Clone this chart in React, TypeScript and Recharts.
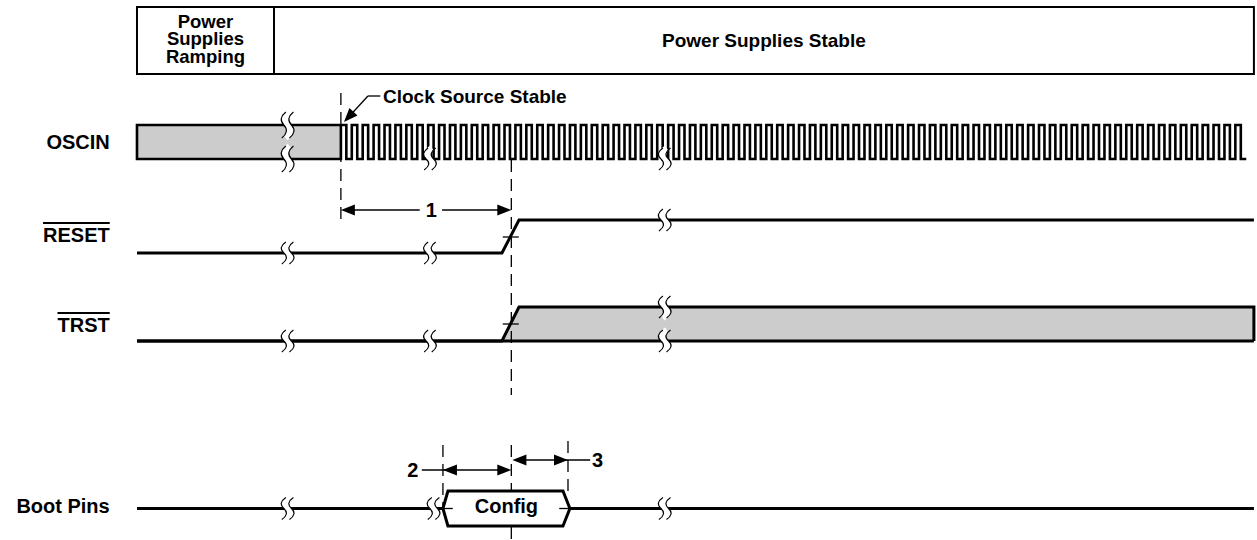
import React from 'react';
import {
  ComposedChart,
  Line,
  Area,
  XAxis,
  YAxis,
  ReferenceArea,
  ReferenceLine,
  ReferenceDot,
} from 'recharts';

// ---------------- data ----------------
// time axis in arbitrary time units, 0 = "Clock Source Stable"
const timeDomain: [number, number] = [-32, 86];
const rowDomain: [number, number] = [0, 540];

const traceStart = -19.14;
const traceEnd = 85.71;

const phaseNames = ['Power Supplies Ramping', 'Power Supplies Stable'];
const phaseLines = ['Power', 'Supplies', 'Ramping'];
const phaseBounds = [-19.14, -6.28, 85.71];

const signalNames = ['OSCIN', 'RESET', 'TRST', 'Boot Pins'];
const signalBar = [false, true, true, false];

// OSCIN: undefined (shaded) until clock is stable, then square wave
const clockStart = 0;
const clockPeriod = 1.024;
const clockCycles = 83;
const clockHalfLevels = [1, 0];

// RESET (active low) – released after interval 1
const resetTimes = [-19.14, 15.12, 16.72, 85.71];
const resetLevels = [0, 0, 1, 1];

// TRST – released together with RESET, then don't care (shaded)
const trstTimes = [-19.14, 15.12, 16.72, 85.71, 85.71];
const trstLevels = [0, 0, 1, 1, 0];
const trstFillTimes = [15.12, 16.72, 85.71];
const trstFillLow = [0, 0, 0];
const trstFillHigh = [0, 1, 1];

// Boot pins – config window
const bootUpperTimes = [-19.14, 9.58, 10.05, 20.85, 21.5, 85.71];
const bootUpperLevels = [0.5, 0.5, 1, 1, 0.5, 0.5];
const bootLowerTimes = [9.58, 10.05, 20.85, 21.5];
const bootLowerLevels = [0.5, 0, 0, 0.5];

// break ("time gap") marks: [time, level]
const oscinBoxBreaks = [[-5.0, 1], [-5.0, 0]];
const oscinClockBreaks = [[8.36, 0], [30.4, 0]];
const resetBreaks = [[-5.0, 0], [8.36, 0], [30.4, 1]];
const trstBreaks = [[-5.0, 0], [8.36, 0], [30.4, 1], [30.4, 0]];
const bootBreaks = [[-5.0, 0.5], [8.7, 0.5], [30.4, 0.5]];

// timing parameters 1, 2, 3 : [from, to]
const param1 = [0, 16];
const param2 = [9.58, 16];
const param3 = [16.1, 21.32];
const paramLabels = ['1', '2', '3'];

// ---------------- layout ----------------
const FONT = '"Liberation Sans", Arial, Helvetica, sans-serif';
const HEADER_ROWS = [7, 74];
const LANES = [
  [125, 159],
  [220, 253],
  [307, 341],
  [491, 526],
];
const LABEL_ROWS = [142, 235, 325, 506];
const LABEL_T = -21.7;

const row = (lane: number[], v: number) => lane[1] - v * (lane[1] - lane[0]);

const toPts = (times: number[], levels: number[], lane: number[]) =>
  times.map((t, i) => ({ t, y: row(lane, levels[i]) }));

// OSCIN outline: shaded box then clock
const oscinLane = LANES[0];
const oscinData: { t: number; y: number }[] = [
  { t: clockStart, y: row(oscinLane, 1) },
  { t: clockStart, y: row(oscinLane, 0) },
  { t: traceStart, y: row(oscinLane, 0) },
  { t: traceStart, y: row(oscinLane, 1) },
  { t: clockStart, y: row(oscinLane, 1) },
];
for (let k = 0; k < clockCycles; k++) {
  const t0 = clockStart + k * clockPeriod;
  clockHalfLevels.forEach((lv, h) => {
    oscinData.push({ t: t0 + (h * clockPeriod) / 2, y: row(oscinLane, lv) });
    oscinData.push({ t: t0 + ((h + 1) * clockPeriod) / 2, y: row(oscinLane, lv) });
  });
}
const oscinFill = [
  { t: traceStart, r: [row(oscinLane, 0), row(oscinLane, 1)] },
  { t: clockStart, r: [row(oscinLane, 0), row(oscinLane, 1)] },
];

const resetData = toPts(resetTimes, resetLevels, LANES[1]);
const trstData = toPts(trstTimes, trstLevels, LANES[2]);
const trstBase = toPts([traceStart, traceEnd], [0, 0], LANES[2]);
const trstFill = trstFillTimes.map((t, i) => ({
  t,
  r: [row(LANES[2], trstFillLow[i]), row(LANES[2], trstFillHigh[i])],
}));
const bootUpper = toPts(bootUpperTimes, bootUpperLevels, LANES[3]);
const bootLower = toPts(bootLowerTimes, bootLowerLevels, LANES[3]);
const bootFill = bootLowerTimes.map((t, i) => ({
  t,
  r: [row(LANES[3], bootLowerLevels[i]), row(LANES[3], bootUpperLevels[i + 1])],
}));

// ---------------- shapes ----------------
const Squiggle = (h: number) => (p: any) => {
  const { cx, cy } = p;
  const curve = (ox: number) =>
    `M ${cx + ox + 2} ${cy - h / 2} Q ${cx + ox - 6} ${cy - h / 4} ${cx + ox} ${cy} Q ${cx + ox + 6} ${cy + h / 4} ${cx + ox - 2} ${cy + h / 2}`;
  return (
    <g>
      <path d={curve(0)} stroke="#fff" strokeWidth={6} fill="none" />
      <path d={curve(-3.8)} stroke="#000" strokeWidth={1.2} fill="none" />
      <path d={curve(3.8)} stroke="#000" strokeWidth={1.2} fill="none" />
    </g>
  );
};

const Arrowhead = (angle: number) => (p: any) => (
  <polygon
    points={`${p.cx},${p.cy} ${p.cx - 14},${p.cy - 5.5} ${p.cx - 14},${p.cy + 5.5}`}
    fill="#000"
    transform={`rotate(${angle} ${p.cx} ${p.cy})`}
  />
);

const TextShape =
  (lines: string[], size: number, anchor: string, opts: { lineGap?: number; overline?: boolean; dy?: number } = {}) =>
  (p: any) => {
    const gap = opts.lineGap ?? size;
    const y0 = p.cy + (opts.dy ?? 0) - ((lines.length - 1) * gap) / 2;
    return (
      <g>
        {lines.map((l, i) => (
          <text
            key={i}
            x={p.cx}
            y={y0 + i * gap}
            textAnchor={anchor as any}
            dominantBaseline="central"
            fontFamily={FONT}
            fontWeight="bold"
            fontSize={size}
            fill="#000"
            style={opts.overline ? { textDecoration: 'overline' } : undefined}
          >
            {l}
          </text>
        ))}
      </g>
    );
  };

const seg = (t1: number, y1: number, t2: number, y2: number, dashed = false, w = 1.3) => (
  <ReferenceLine
    segment={[
      { x: t1, y: y1 },
      { x: t2, y: y2 },
    ]}
    stroke="#000"
    strokeWidth={w}
    strokeDasharray={dashed ? '12 7' : undefined}
    ifOverflow="extendDomain"
  />
);

const dot = (t: number, y: number, shape: any, key?: string) => (
  <ReferenceDot key={key} x={t} y={y} r={1} shape={shape} ifOverflow="extendDomain" />
);

const breaks = (list: number[][], lane: number[], h: number, tag: string) =>
  list.map(([t, v], i) => dot(t, row(lane, v), Squiggle(h), `b${tag}-${i}`));

export default function App() {
  const lineProps = {
    type: 'linear' as const,
    dataKey: 'y',
    stroke: '#000',
    strokeWidth: 3,
    dot: false,
    activeDot: false,
    isAnimationActive: false,
    legendType: 'none' as const,
  };
  const headerMid = (HEADER_ROWS[0] + HEADER_ROWS[1]) / 2;
  return (
    <div style={{ position: 'absolute', left: 0, top: 0, background: '#fff' }}>
      <ComposedChart width={1257} height={540} margin={{ top: 0, right: 0, bottom: 0, left: 0 }}>
        <XAxis type="number" dataKey="t" domain={timeDomain} hide allowDataOverflow />
        <YAxis type="number" domain={rowDomain} reversed hide allowDataOverflow />

        {/* header */}
        <ReferenceArea
          x1={phaseBounds[0]}
          x2={phaseBounds[2]}
          y1={HEADER_ROWS[0]}
          y2={HEADER_ROWS[1]}
          fill="none"
          fillOpacity={0}
          stroke="#000"
          strokeWidth={2}
        />
        {seg(phaseBounds[1], HEADER_ROWS[0], phaseBounds[1], HEADER_ROWS[1], false, 2)}

        {/* fills */}
        <Area data={oscinFill} type="linear" dataKey="r" stroke="none" fill="#cccccc" fillOpacity={1} isAnimationActive={false} legendType="none" dot={false} activeDot={false} />
        <Area data={trstFill} type="linear" dataKey="r" stroke="none" fill="#cccccc" fillOpacity={1} isAnimationActive={false} legendType="none" dot={false} activeDot={false} />
        <Area data={bootFill} type="linear" dataKey="r" stroke="none" fill="#ffffff" fillOpacity={1} isAnimationActive={false} legendType="none" dot={false} activeDot={false} />

        {/* waveforms */}
        <Line {...lineProps} data={oscinData} strokeWidth={2.6} />
        <Line {...lineProps} data={resetData} />
        <Line {...lineProps} data={trstBase} />
        <Line {...lineProps} data={trstData} />
        <Line {...lineProps} data={bootUpper} />
        <Line {...lineProps} data={bootLower} />

        {/* dashed reference lines */}
        {seg(param1[0], 93, param1[0], 222, true)}
        {seg(param1[1], 160, param1[1], 395, true)}
        {seg(param1[1], 445, param1[1], 491, true)}
        {seg(param1[1], 527, param1[1], 540, true)}
        {seg(param2[0], 445, param2[0], 506, true)}
        {seg(param3[1], 441, param3[1], 492, true)}

        {/* transition crossing ticks */}
        {seg(15.2, 237, 16.7, 237)}
        {seg(15.2, 324, 16.7, 324)}
        {seg(9.4, 508.5, 10.5, 508.5)}
        {seg(20.5, 508.5, 21.6, 508.5)}

        {/* parameter 1 */}
        {seg(param1[0] + 0.3, 210, 7.4, 210)}
        {seg(9.5, 210, param1[1] - 0.3, 210)}
        {dot(param1[0], 210, Arrowhead(180), 'a1l')}
        {dot(param1[1], 210, Arrowhead(0), 'a1r')}
        {dot(8.5, 210, TextShape([paramLabels[0]], 20, 'middle'), 't1')}

        {/* parameter 2 */}
        {seg(7.6, 470, param2[1] - 0.3, 470)}
        {dot(param2[0], 470, Arrowhead(180), 'a2l')}
        {dot(param2[1], 470, Arrowhead(0), 'a2r')}
        {dot(6.75, 470, TextShape([paramLabels[1]], 20, 'middle'), 't2')}

        {/* parameter 3 */}
        {seg(param3[0] + 0.3, 460, 23.4, 460)}
        {dot(param3[0], 460, Arrowhead(180), 'a3l')}
        {dot(param3[1], 460, Arrowhead(0), 'a3r')}
        {dot(24.1, 460, TextShape([paramLabels[2]], 20, 'middle'), 't3')}

        {/* clock source stable callout */}
        {seg(3.7, 96, 2.54, 96)}
        {seg(2.54, 96, 0.6, 118.5)}
        {dot(0.29, 122, Arrowhead(132.7), 'cs')}
        {dot(3.95, 96, TextShape(['Clock Source Stable'], 19, 'start'), 'cst')}

        {/* break marks */}
        {breaks(oscinBoxBreaks, LANES[0], 26, 'ob')}
        {breaks(oscinClockBreaks, LANES[0], 22, 'oc')}
        {breaks(resetBreaks, LANES[1], 22, 'r')}
        {breaks(trstBreaks, LANES[2], 22, 't')}
        {breaks(bootBreaks, LANES[3], 22, 'bp')}

        {/* texts */}
        {dot(
          (phaseBounds[0] + phaseBounds[1]) / 2,
          headerMid,
          TextShape(phaseLines, 18.5, 'middle', { lineGap: 17.5, dy: -2 }),
          'h0'
        )}
        {dot((phaseBounds[1] + phaseBounds[2]) / 2, headerMid, TextShape([phaseNames[1]], 19, 'middle'), 'h1')}
        {signalNames.map((n, i) =>
          dot(LABEL_T, LABEL_ROWS[i], TextShape([n], 20, 'end', { overline: signalBar[i] }), `sn${i}`)
        )}
        {dot((bootLowerTimes[0] + bootLowerTimes[3]) / 2, LABEL_ROWS[3], TextShape(['Config'], 20, 'middle'), 'cfg')}
      </ComposedChart>
    </div>
  );
}
